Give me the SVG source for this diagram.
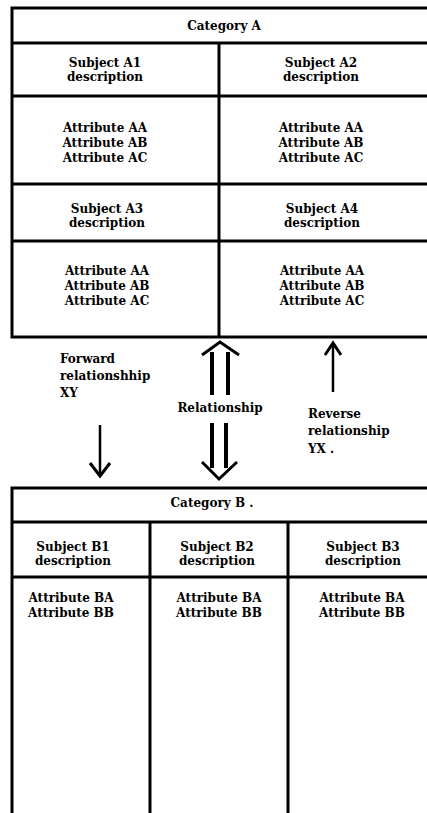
<svg xmlns="http://www.w3.org/2000/svg" width="427" height="813" viewBox="0 0 427 813">
  <style>
    .frame { fill: none; stroke: #000; stroke-width: 3; }
    .rule { stroke: #000; stroke-width: 3; fill: none; }
    .t { font-family: "DejaVu Serif", "Liberation Serif", serif; font-weight: bold; font-size: 12px; fill: #000; }
    .c { text-anchor: middle; }
    .shaft { stroke: #000; stroke-width: 4; fill: none; }
    .thin { stroke: #000; stroke-width: 2.5; fill: none; }
    .head { stroke: #000; stroke-width: 3; fill: none; stroke-linejoin: miter; }
  </style>
  <rect width="427" height="813" fill="#fff"/>

  <!-- Category A: two-by-two subject grid -->
  <g id="category-a">
    <rect class="frame" x="12" y="8" width="430" height="329"/>
    <line class="rule" x1="12" y1="43" x2="442" y2="43"/>
    <line class="rule" x1="12" y1="96" x2="442" y2="96"/>
    <line class="rule" x1="12" y1="184" x2="442" y2="184"/>
    <line class="rule" x1="12" y1="241" x2="442" y2="241"/>
    <line class="rule" x1="219" y1="43" x2="219" y2="337"/>
    <text class="t c" x="224" y="30">Category A</text>
    <g id="subject-a1">
      <text class="t c" x="105" y="67">Subject A1</text>
      <text class="t c" x="105" y="81">description</text>
      <text class="t c" x="105" y="132">Attribute AA</text>
      <text class="t c" x="105" y="147">Attribute AB</text>
      <text class="t c" x="105" y="162">Attribute AC</text>
    </g>
    <g id="subject-a2">
      <text class="t c" x="321" y="67">Subject A2</text>
      <text class="t c" x="321" y="81">description</text>
      <text class="t c" x="321" y="132">Attribute AA</text>
      <text class="t c" x="321" y="147">Attribute AB</text>
      <text class="t c" x="321" y="162">Attribute AC</text>
    </g>
    <g id="subject-a3">
      <text class="t c" x="107" y="213">Subject A3</text>
      <text class="t c" x="107" y="227">description</text>
      <text class="t c" x="107" y="275">Attribute AA</text>
      <text class="t c" x="107" y="290">Attribute AB</text>
      <text class="t c" x="107" y="305">Attribute AC</text>
    </g>
    <g id="subject-a4">
      <text class="t c" x="322" y="213">Subject A4</text>
      <text class="t c" x="322" y="227">description</text>
      <text class="t c" x="322" y="275">Attribute AA</text>
      <text class="t c" x="322" y="290">Attribute AB</text>
      <text class="t c" x="322" y="305">Attribute AC</text>
    </g>
  </g>

  <!-- Category B: three subject columns -->
  <g id="category-b">
    <rect class="frame" x="12" y="488" width="430" height="340"/>
    <line class="rule" x1="12" y1="522" x2="442" y2="522"/>
    <line class="rule" x1="12" y1="577" x2="442" y2="577"/>
    <line class="rule" x1="150" y1="522" x2="150" y2="813"/>
    <line class="rule" x1="288" y1="522" x2="288" y2="813"/>
    <text class="t c" x="212" y="507">Category B .</text>
    <g id="subject-b1">
      <text class="t c" x="73" y="551">Subject B1</text>
      <text class="t c" x="73" y="565">description</text>
      <text class="t c" x="71" y="602">Attribute BA</text>
      <text class="t c" x="71" y="617">Attribute BB</text>
    </g>
    <g id="subject-b2">
      <text class="t c" x="217" y="551">Subject B2</text>
      <text class="t c" x="217" y="565">description</text>
      <text class="t c" x="219" y="602">Attribute BA</text>
      <text class="t c" x="219" y="617">Attribute BB</text>
    </g>
    <g id="subject-b3">
      <text class="t c" x="363" y="551">Subject B3</text>
      <text class="t c" x="363" y="565">description</text>
      <text class="t c" x="362" y="602">Attribute BA</text>
      <text class="t c" x="362" y="617">Attribute BB</text>
    </g>
  </g>

  <!-- Relationships between the categories -->
  <g id="connectors">
    <!-- forward XY: A to B -->
    <g id="forward-xy">
      <line class="thin" x1="100" y1="425" x2="100" y2="476"/>
      <polyline class="head" points="90,463 100,476 110,463"/>
      <text class="t" x="60" y="363">Forward</text>
      <text class="t" x="60" y="380">relationshhip</text>
      <text class="t" x="60" y="397">XY</text>
    </g>
    <!-- two-way relationship -->
    <g id="relationship">
      <line class="shaft" x1="212" y1="352" x2="212" y2="395"/>
      <line class="shaft" x1="228" y1="352" x2="228" y2="395"/>
      <polyline class="head" points="202,355 220,342 239,355"/>
      <line class="shaft" x1="212" y1="423" x2="212" y2="468"/>
      <line class="shaft" x1="226" y1="423" x2="226" y2="468"/>
      <polyline class="head" points="202,462 219,479 237,462"/>
      <text class="t c" x="220" y="412">Relationship</text>
    </g>
    <!-- reverse YX: B to A -->
    <g id="reverse-yx">
      <line class="thin" x1="333" y1="344" x2="333" y2="392"/>
      <polyline class="head" points="325,355 333,343 341,355"/>
      <text class="t" x="308" y="418">Reverse</text>
      <text class="t" x="308" y="435">relationship</text>
      <text class="t" x="308" y="453">YX .</text>
    </g>
  </g>
</svg>
